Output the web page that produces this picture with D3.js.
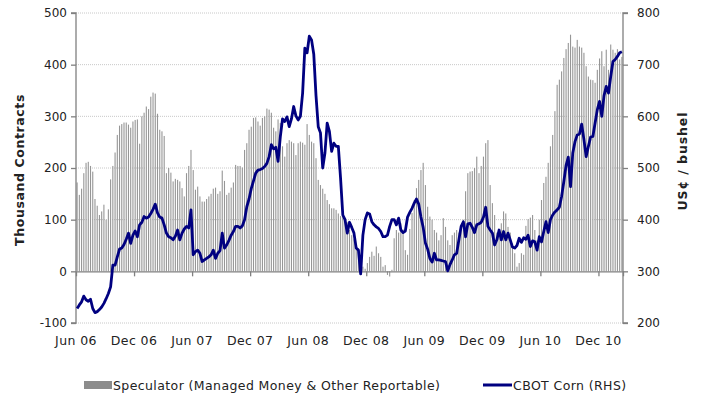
<!DOCTYPE html>
<html>
<head>
<meta charset="utf-8">
<script src="https://cdn.jsdelivr.net/npm/d3@7"></script>
<style>
  body { margin: 0; background: #fff; }
  text { font-family: "DejaVu Sans", Verdana, sans-serif; fill: #222; }
</style>
</head>
<body>
<div class="chart"></div>
<script>
/* weekly speculator net position, thousand contracts (Jun 06 .. Feb 11) */
const speculator = [
  172,148,160,190,210,212,204,193,140,127,109,116,129,100,120,178,204,230,264,282,285,288,288,284,278,290,293,294,247,300,307,319,314,338,
  346,344,305,274,271,262,190,200,191,174,179,177,174,161,145,190,204,235,196,
  158,164,145,135,135,140,145,150,160,162,150,155,195,175,148,152,162,
  172,206,204,204,201,235,248,274,280,297,298,290,282,297,300,315,313,307,278,271,294,287,242,222,248,254,251,248,225,248,251,249,245,285,264,251,248,219,
  177,167,160,150,138,130,122,122,119,112,107,107,100,95,80,70,62,48,38,28,9,5,16,28,38,30,48,35,28,9,12,-7,-10,3,
  64,80,75,93,81,41,32,82,113,138,161,177,196,210,167,125,106,100,80,75,60,70,103,86,60,51,70,75,80,75,84,100,155,190,193,194,200,
  222,190,204,222,248,254,167,132,109,75,80,93,116,112,86,75,54,35,9,16,35,32,88,101,104,109,80,60,
  100,138,171,183,210,242,264,310,361,371,387,413,430,442,458,435,433,448,435,433,423,397,377,371,370,365,390,412,426,397,429,390,439,429,423,430,410,415
];

/* weekly CBOT corn price, US cents / bushel */
const corn = [
  228,235,241,252,245,242,246,228,220,222,226,231,238,247,257,270,312,312,328,343,345,352,362,374,354,370,378,367,390,395,406,403,405,412,420,430,
  413,405,403,390,374,367,365,361,368,380,361,374,382,387,384,419,332,338,341,335,319,322,325,328,332,341,325,335,340,374,345,351,360,370,377,387,
  387,384,388,400,425,440,460,475,490,496,497,499,503,509,522,545,537,540,513,560,595,590,599,580,595,619,601,593,600,645,732,723,755,748,
  720,640,580,568,500,529,587,571,532,548,542,542,480,409,400,374,395,385,374,345,341,295,370,400,413,411,396,390,386,383,377,367,367,370,387,400,
  400,390,403,380,375,378,405,414,422,432,440,430,405,385,355,343,325,318,335,322,322,321,320,319,301,313,322,332,335,361,387,396,367,392,393,385,375,
  390,392,395,405,424,387,380,374,351,361,380,361,377,361,374,361,347,345,350,364,356,365,362,370,348,359,357,341,367,357,377,396,375,400,409,
  415,419,424,445,474,505,521,464,529,551,564,566,585,555,522,542,560,561,587,613,629,600,640,658,645,677,706,710,716,723,725
];

/* category axis labels, one every 26 weeks */
const tickLabels = ["Jun 06","Dec 06","Jun 07","Dec 07","Jun 08","Dec 08","Jun 09","Dec 09","Jun 10","Dec 10"];
const leftTicks = [-100, 0, 100, 200, 300, 400, 500];
const rightTicks = [200, 300, 400, 500, 600, 700, 800];
const seriesNames = ["Speculator (Managed Money & Other Reportable)", "CBOT Corn (RHS)"];

const width = 706;
const height = 401;
const plotLeft = 76, plotRight = 623, plotTop = 13, plotBottom = 323;

const svg = d3.select(".chart").append("svg")
  .attr("width", width)
  .attr("height", height)
  .attr("viewBox", [0, 0, width, height]);

const n = speculator.length;
const x = d3.scaleLinear().domain([0, n]).range([plotLeft, plotRight]);
const yL = d3.scaleLinear().domain([-100, 500]).range([plotBottom, plotTop]);
const yR = d3.scaleLinear().domain([200, 800]).range([plotBottom, plotTop]);

/* dotted gridlines */
svg.append("g")
  .selectAll("line")
  .data(leftTicks.filter(d => d !== 0))
  .join("line")
    .attr("x1", plotLeft).attr("x2", plotRight)
    .attr("y1", d => yL(d)).attr("y2", d => yL(d))
    .attr("stroke", "#c8c8c8")
    .attr("stroke-dasharray", "1,1");

/* bars */
const bw = 1.1;
svg.append("g")
  .selectAll("rect")
  .data(speculator)
  .join("rect")
    .attr("x", (d, i) => x(i + 0.5) - bw / 2)
    .attr("y", d => yL(Math.max(0, d)))
    .attr("width", bw)
    .attr("height", d => Math.abs(yL(d) - yL(0)))
    .attr("fill", "#969696");

/* left axis */
const axL = svg.append("g")
  .attr("transform", `translate(${plotLeft},0)`)
  .call(d3.axisLeft(yL).tickValues(leftTicks).tickSize(5).tickPadding(4).tickFormat(d => String(d)));

/* right axis */
const axR = svg.append("g")
  .attr("transform", `translate(${plotRight},0)`)
  .call(d3.axisRight(yR).tickValues(rightTicks).tickSize(5).tickPadding(9).tickFormat(d => String(d)));

/* category axis on the zero line */
const tickIdx = tickLabels.map((d, i) => i * 26);
const axB = svg.append("g")
  .attr("transform", `translate(0,${yL(0)})`)
  .call(d3.axisBottom(x).tickValues(tickIdx.slice(1)).tickSize(5).tickFormat(""));

[axL, axR, axB].forEach(g => {
  g.select(".domain").attr("stroke", "#808080").attr("stroke-width", 1.3);
  g.selectAll(".tick line").attr("stroke", "#808080").attr("stroke-width", 1.3);
  g.selectAll(".tick text").attr("font-size", 12).attr("fill", "#222")
    .attr("font-family", "DejaVu Sans, Verdana, sans-serif");
});
axL.select(".domain").attr("d", `M-5,${plotBottom}H0V${plotTop}H-5`);
axR.select(".domain").attr("d", `M5,${plotBottom}H0V${plotTop}H5`);

/* x labels below the plot */
svg.append("g")
  .selectAll("text")
  .data(tickLabels)
  .join("text")
    .attr("x", (d, i) => x(tickIdx[i]))
    .attr("y", 345)
    .attr("text-anchor", "middle")
    .attr("font-size", 12.5)
    .attr("letter-spacing", 0.4)
    .text(d => d);

/* corn line */
const line = d3.line()
  .x((d, i) => x(i + 0.5))
  .y(d => yR(d));

svg.append("path")
  .datum(corn)
  .attr("d", line)
  .attr("fill", "none")
  .attr("stroke", "#000080")
  .attr("stroke-width", 2.8)
  .attr("stroke-linejoin", "round");

/* axis titles */
svg.append("text")
  .attr("transform", `translate(24,${(plotTop + plotBottom) / 2 + 2}) rotate(-90)`)
  .attr("text-anchor", "middle")
  .attr("font-size", 12.5)
  .attr("letter-spacing", 0.6)
  .attr("font-weight", "bold")
  .text("Thousand Contracts");

svg.append("text")
  .attr("transform", `translate(687,161) rotate(-90)`)
  .attr("text-anchor", "middle")
  .attr("font-size", 12.5)
  .attr("letter-spacing", 0.9)
  .attr("font-weight", "bold")
  .text("US¢ / bushel");

/* legend */
const legend = svg.append("g");
legend.append("rect")
  .attr("x", 84).attr("y", 381)
  .attr("width", 28).attr("height", 8)
  .attr("fill", "#8c8c8c");
legend.append("text")
  .attr("x", 113).attr("y", 389.5)
  .attr("font-size", 12.5)
  .attr("letter-spacing", 0.4)
  .text(seriesNames[0]);
legend.append("line")
  .attr("x1", 483).attr("x2", 512)
  .attr("y1", 385).attr("y2", 385)
  .attr("stroke", "#000080")
  .attr("stroke-width", 3);
legend.append("text")
  .attr("x", 513).attr("y", 389.5)
  .attr("font-size", 12.5)
  .attr("letter-spacing", 0.4)
  .text(seriesNames[1]);
</script>
</body>
</html>
